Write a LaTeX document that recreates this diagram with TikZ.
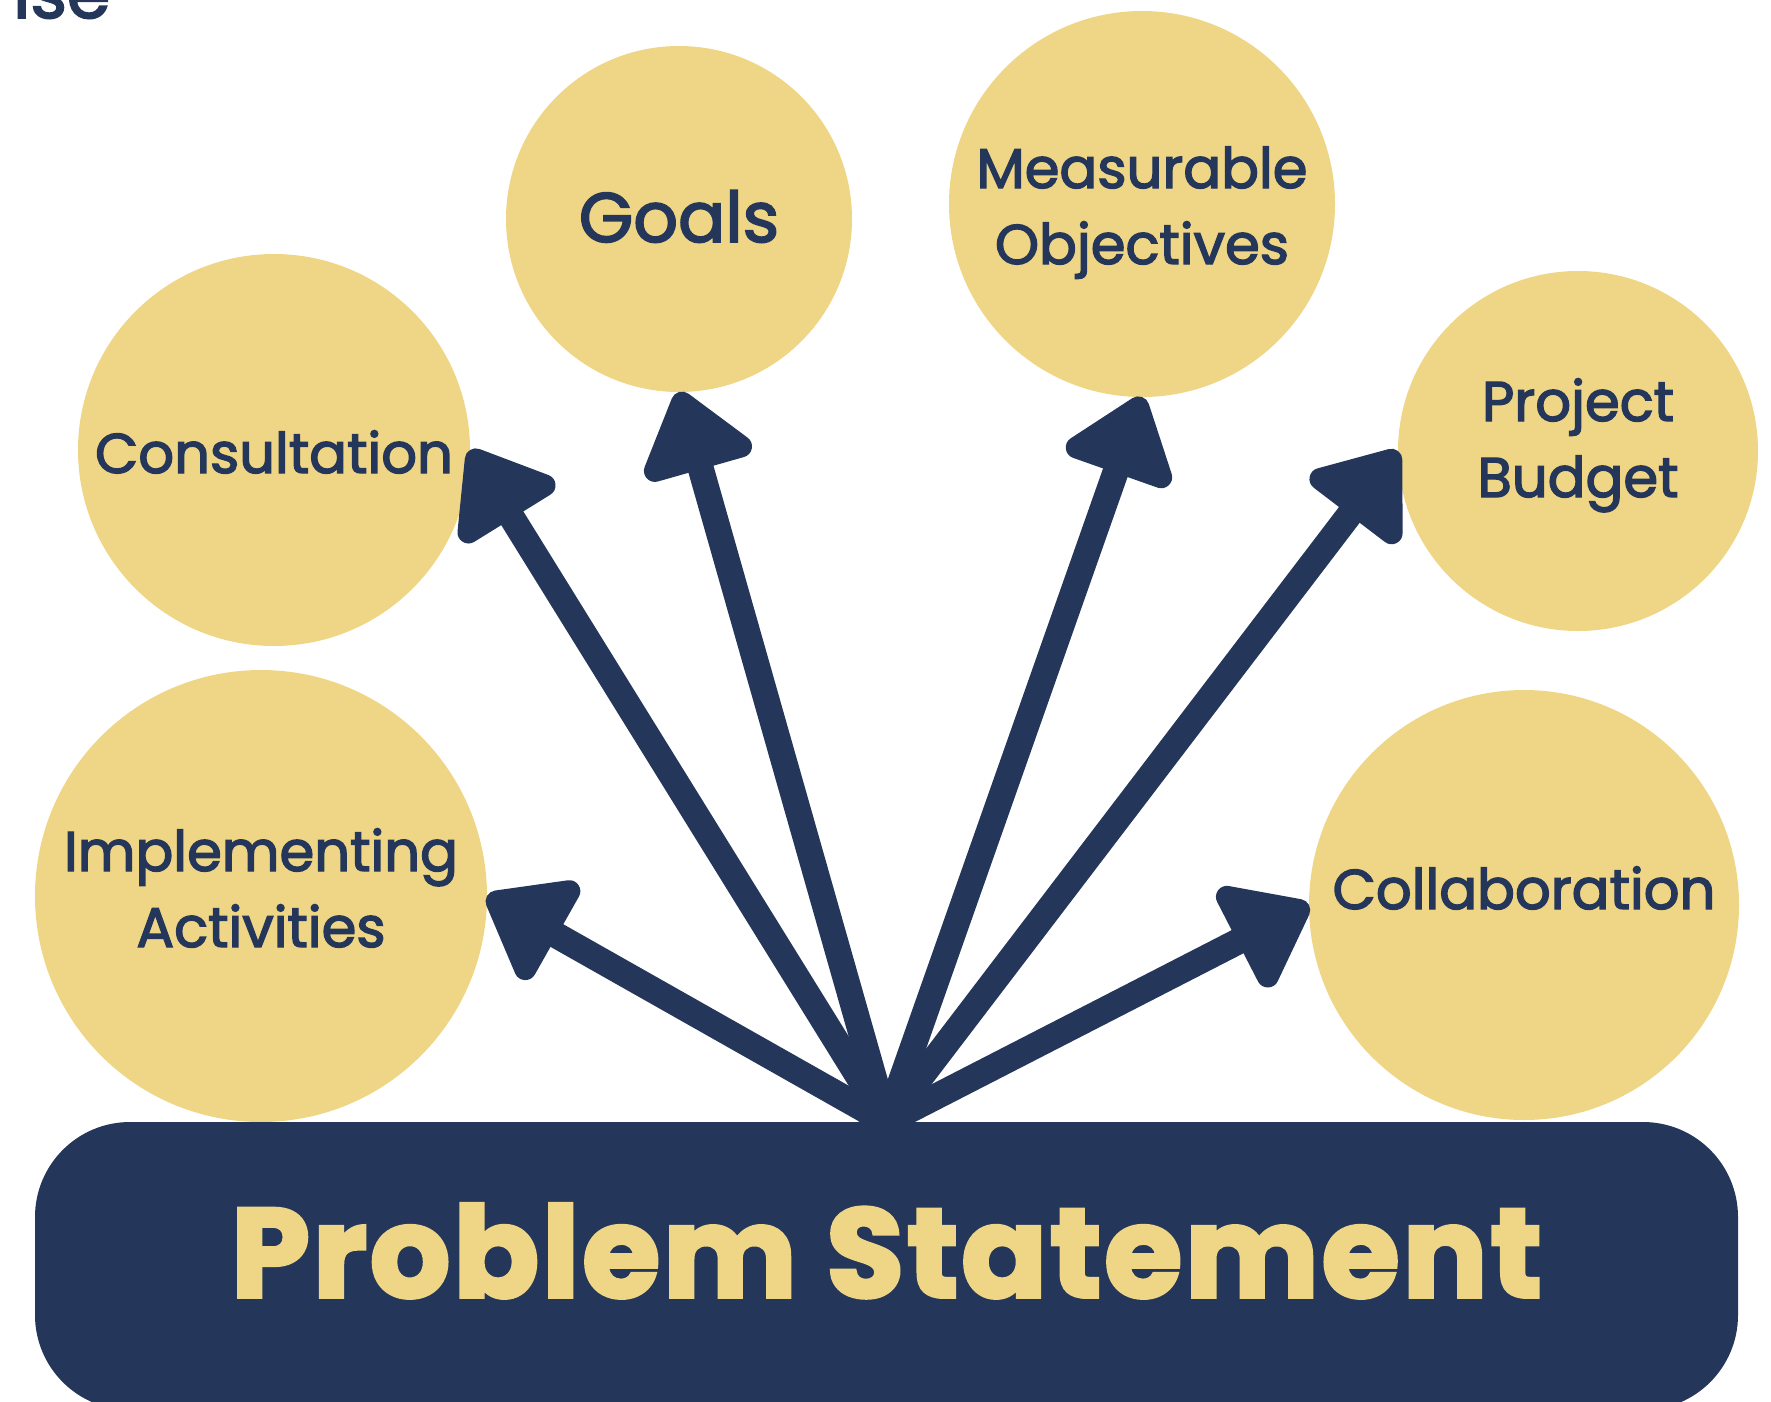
\documentclass[tikz,border=0pt]{standalone}
\usepackage{fontspec}
\setmainfont{Poppins}[FakeBold=2.5]
\newfontfamily\lblfont{Poppins}[FakeBold=2.5]
\newfontfamily\psfont{Poppins}[UprightFeatures={FakeBold=3}, BoldFeatures={FakeBold=3}, LetterSpace=2.5]
\usetikzlibrary{arrows.meta}
\definecolor{navy}{HTML}{24375A}
\definecolor{gold}{HTML}{EFD686}
\begin{document}
\begin{tikzpicture}[x=1pt,y=-1pt,
  bub/.style={circle, fill=gold, inner sep=0pt, outer sep=0pt},
  lbl/.style={text=navy, font=\lblfont\fontsize{56}{76}\selectfont, align=center, inner sep=0pt, anchor=base},
  arr/.style={navy, line width=26pt, shorten <=-40pt, -{Triangle[round, length=88pt, width=128pt]}},
]
\useasboundingbox (0,0) rectangle (1771,1401);
\clip (0,0) rectangle (1771,1401);
% partial heading
\node[anchor=base west, text=navy, font=\lblfont\fontsize{70}{70}\selectfont, inner sep=0pt] (ise) at (13,18) {ise};
% bubbles
\node[bub, minimum size=346pt] (goals) at (679,219) {};
\node[bub, minimum size=386pt] (meas) at (1142,204) {};
\node[bub, minimum size=392pt] (consult) at (274,450) {};
\node[bub, minimum size=360pt] (budget) at (1578,451) {};
\node[bub, minimum size=452pt] (impl) at (261,896) {};
\node[bub, minimum size=430pt] (collab) at (1524,905) {};
% labels (anchor base = baseline of last line)
\node[lbl, font=\lblfont\fontsize{70}{76}\selectfont] (tgoals) at (679,242) {Goals};
\node[lbl] (tmeas) at (1142,264) {Measurable\\Objectives};
\node[lbl] (tconsult) at (274,473) {Consultation};
\node[lbl] (tbudget) at (1578,497) {Project\\Budget};
\node[lbl] (timpl) at (261,947) {Implementing\\Activities};
\node[lbl] (tcollab) at (1524,909) {Collaboration};
% base
\node[fill=navy, rounded corners=95pt, minimum width=1703pt, minimum height=288pt, inner sep=0pt, outer sep=0pt,
      text=gold, font=\psfont\bfseries\fontsize{126}{126}\selectfont, text height=85pt, text depth=23pt] (ps) at (886.5,1266) {Problem Statement};
% arrows
\draw[arr] (ps.north) -- (impl.east);
\draw[arr] (ps.north) -- (consult.east);
\draw[arr] (ps.north) -- (goals.south);
\draw[arr] (ps.north) -- (meas.south);
\draw[arr] (ps.north) -- (budget.west);
\draw[arr] (ps.north) -- (collab.west);
\end{tikzpicture}
\end{document}
